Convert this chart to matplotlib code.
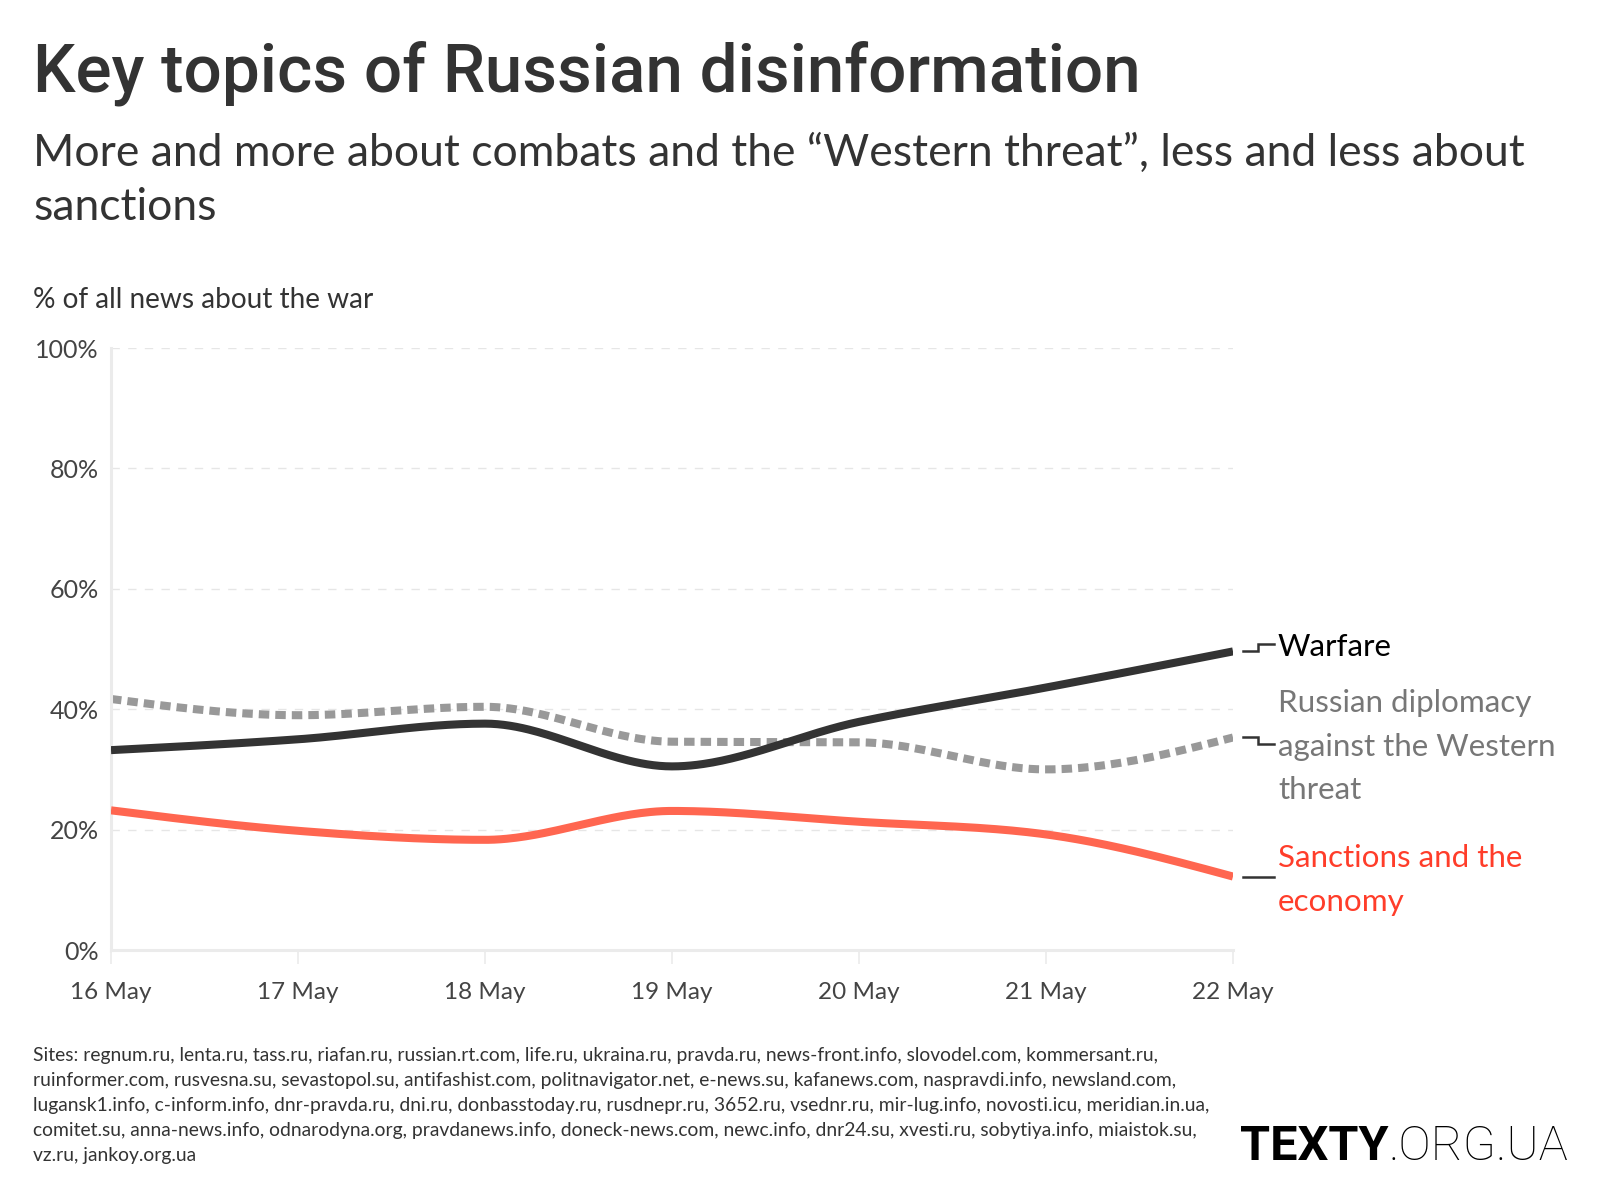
import numpy as np
import matplotlib
matplotlib.use("Agg")
import matplotlib.pyplot as plt
from matplotlib.ticker import FuncFormatter

# ---------------- data ----------------
dates = ["16 May", "17 May", "18 May", "19 May", "20 May", "21 May", "22 May"]
warfare = [33.2, 35.0, 37.6, 30.5, 37.9, 43.6, 49.6]
diplomacy = [41.7, 39.0, 40.4, 34.6, 34.5, 30.0, 35.3]
sanctions = [23.2, 19.8, 18.3, 23.1, 21.3, 19.2, 12.2]

title = "Key topics of Russian disinformation"
subtitle = "More and more about combats and the \u201cWestern threat\u201d, less and less about\nsanctions"
ylabel = "% of all news about the war"
footer = ("Sites: regnum.ru, lenta.ru, tass.ru, riafan.ru, russian.rt.com, life.ru, ukraina.ru, pravda.ru, news-front.info, slovodel.com, kommersant.ru,\n"
          "ruinformer.com, rusvesna.su, sevastopol.su, antifashist.com, politnavigator.net, e-news.su, kafanews.com, naspravdi.info, newsland.com,\n"
          "lugansk1.info, c-inform.info, dnr-pravda.ru, dni.ru, donbasstoday.ru, rusdnepr.ru, 3652.ru, vsednr.ru, mir-lug.info, novosti.icu, meridian.in.ua,\n"
          "comitet.su, anna-news.info, odnarodyna.org, pravdanews.info, doneck-news.com, newc.info, dnr24.su, xvesti.ru, sobytiya.info, miaistok.su,\n"
          "vz.ru, jankoy.org.ua")

W, H = 1600, 1200
FONT = "Lato"

def monotone(x, y, n=60):
    """d3 curveMonotoneX style rendering of a line through the data points."""
    x = np.asarray(x, float); y = np.asarray(y, float)
    h = np.diff(x); s = np.diff(y) / h
    m = len(x)
    t = np.zeros(m)
    for i in range(1, m - 1):
        p = (s[i - 1] * h[i] + s[i] * h[i - 1]) / (h[i - 1] + h[i])
        t[i] = (np.sign(s[i - 1]) + np.sign(s[i])) * min(abs(s[i - 1]), abs(s[i]), 0.5 * abs(p))
    t[0] = (3 * s[0] - t[1]) / 2
    t[-1] = (3 * s[-1] - t[-2]) / 2
    xs, ys = [], []
    for i in range(m - 1):
        u = np.linspace(0, 1, n, endpoint=(i == m - 2))
        h00 = 2 * u**3 - 3 * u**2 + 1
        h10 = u**3 - 2 * u**2 + u
        h01 = -2 * u**3 + 3 * u**2
        h11 = u**3 - u**2
        xs.append(x[i] + u * h[i])
        ys.append(h00 * y[i] + h10 * h[i] * t[i] + h01 * y[i + 1] + h11 * h[i] * t[i + 1])
    return np.concatenate(xs), np.concatenate(ys)

fig = plt.figure(figsize=(16, 12), dpi=100)
left, right, top, bottom = 111, 1233, 348, 950
ax = fig.add_axes([left / W, 1 - bottom / H, (right - left) / W, (bottom - top) / H])

x = np.arange(len(dates))

# grid
for v in [20, 40, 60, 80, 100]:
    ax.axhline(v, color="#e6e6e6", lw=1.0, ls=(0, (6, 6)), zorder=0)

xs, ys = monotone(x, diplomacy)
ax.plot(xs, ys, color="#999999", lw=5.8, ls=(0, (1.3, 0.75)), solid_capstyle="butt",
        dash_capstyle="butt", zorder=2)
xs, ys = monotone(x, warfare)
ax.plot(xs, ys, color="#333333", lw=5.8, solid_capstyle="butt", zorder=3)
xs, ys = monotone(x, sanctions)
ax.plot(xs, ys, color="#ff6650", lw=5.8, solid_capstyle="butt", zorder=3)

ax.set_xlim(0, 6)
ax.set_ylim(0, 100)
ax.set_xticks(x)
ax.set_xticklabels(dates)
ax.set_yticks([0, 20, 40, 60, 80, 100])
ax.yaxis.set_major_formatter(FuncFormatter(lambda v, p: f"{int(v)}%"))
for sp in ["top", "right"]:
    ax.spines[sp].set_visible(False)
ax.spines["left"].set_color("#ebebeb")
ax.spines["left"].set_linewidth(2.2)
ax.spines["bottom"].set_color("#ebebeb")
ax.spines["bottom"].set_linewidth(2.2)
ax.tick_params(axis="y", length=0, pad=9, labelsize=18, labelcolor="#444444")
ax.tick_params(axis="x", length=10, width=1.2, color="#ebebeb", pad=13, labelsize=17.5,
               labelcolor="#444444")
for lab in ax.get_xticklabels() + ax.get_yticklabels():
    lab.set_fontfamily(FONT)

# connectors + labels
lab_x0, lab_xm, lab_x1, txt_x = 6.053, 6.134, 6.219, 6.24
labels = [
    ("Warfare", warfare[-1], 50.8, "#000000"),
    ("Russian diplomacy\nagainst the Western\nthreat", diplomacy[-1], 34.3, "#777777"),
    ("Sanctions and the\neconomy", sanctions[-1], sanctions[-1], "#ff3d2a"),
]
for txt, yv, ly, col in labels:
    ax.plot([lab_x0, lab_xm, lab_xm, lab_x1], [yv, yv, ly, ly], color="#333333", lw=1.8,
            clip_on=False, solid_joinstyle="miter")
    ax.text(txt_x, ly - 0.55, txt, color=col, fontsize=22.6, fontfamily=FONT, va="center",
            ha="left", linespacing=1.68, clip_on=False)

# titles
fig.text(33 / W, 1 - 92 / H, title, fontsize=48.5, fontweight="medium", fontfamily="Roboto",
         color="#333333", va="baseline", ha="left")
fig.text(33 / W, 1 - 220 / H, subtitle, fontsize=32, fontfamily=FONT, color="#333333",
         va="baseline", ha="left", linespacing=1.385)
fig.text(33 / W, 1 - 308 / H, ylabel, fontsize=20.2, fontfamily=FONT, color="#333333",
         va="baseline", ha="left")

# footer
fig.text(33 / W, 1 - 1161 / H, footer, fontsize=13.9, fontfamily=FONT, color="#333333",
         va="baseline", ha="left", linespacing=1.58)

# logo
t1 = fig.text(1240 / W, 1 - 1160 / H, "TEXTY", fontsize=35, fontweight="bold",
              fontfamily="Roboto", color="#000000", va="baseline", ha="left")
fig.canvas.draw()
bb = t1.get_window_extent()
fig.text(bb.x1 / W, 1 - 1160 / H, ".ORG.UA", fontsize=35, fontweight="light",
         fontfamily="Roboto", color="#000000", va="baseline", ha="left")

fig.savefig("out.png", dpi=100, facecolor="white")
